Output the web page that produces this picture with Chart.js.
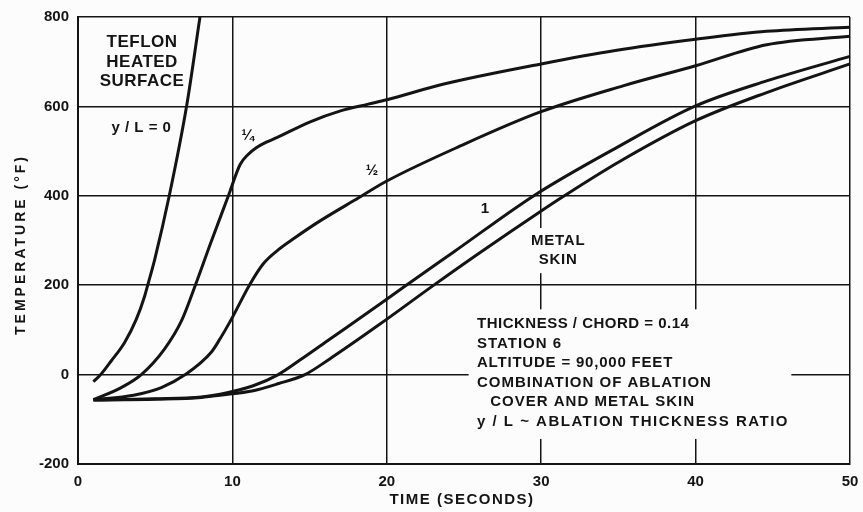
<!DOCTYPE html>
<html><head><meta charset="utf-8">
<script src="https://cdn.jsdelivr.net/npm/chart.js@4/dist/chart.umd.min.js"></script>
<style>html,body{margin:0;padding:0;background:#fcfcfc}#wrap{width:863px;height:512px}</style>
</head><body><div id="wrap"><canvas id="c" width="863" height="512"></canvas></div>
<script>
// ---- data ----
const xTickLabels = ['0','10','20','30','40','50'];
const yTickLabels = ['-200','0','200','400','600','800'];

// y/L = 0 (Teflon heated surface)
const surfX = [1, 1.47, 2.16, 3.02, 3.78, 4.32, 4.53, 4.97, 5.91, 7.04, 7.9];
const surfY = [-16, 0, 31, 72, 124, 176, 202, 258, 400, 602, 800];
// y/L = 1/4
const quarterX = [1, 2.8, 4.1, 5.6, 6.7, 7.6, 8.6, 9.74, 10.5, 11.0, 11.57, 12.2, 12.87, 15, 17, 18.8, 20, 23.7, 30, 34.8, 40, 44.6, 50];
const quarterY = [-56, -29, 0, 57, 120, 200, 295, 400, 470, 492, 508, 520, 530, 565, 590, 605, 615, 650, 695, 725, 750, 768, 777];
// y/L = 1/2
const halfX = [1, 3.6, 5.4, 6.95, 8.63, 9.2, 10, 11.1, 12, 13, 14, 15.5, 18.15, 20, 24.8, 29.9, 35.3, 40, 44.6, 50];
const halfY = [-56, -46, -29, 0, 50, 80, 128, 200, 248, 280, 305, 340, 395, 433, 512, 587, 646, 691, 738, 757];
// y/L = 1
const oneX = [1, 5, 8, 9.2, 11.35, 12.97, 14.4, 16.3, 19.56, 21.1, 24.4, 29.6, 35, 40, 44.6, 50];
const oneY = [-57, -54, -50, -44, -25, 0, 33, 79, 158, 196, 276, 402, 510, 601, 657, 712];
// metal skin
const skinX = [1, 5, 8, 9.2, 11.35, 13, 14.7, 16.3, 19.56, 23.0, 26, 30, 31.5, 35, 40, 44.6, 50];
const skinY = [-57, -55, -51, -46, -36, -20, 0, 35, 113, 199, 272, 366, 400, 475, 568, 631, 695];

function pts(xs, ys){ return xs.map((x,i)=>({x:x, y:ys[i]})); }

// ---- annotations (data coordinates) ----
const notes = [
  {t:'TEFLON', x:4.15, y:744, a:'center', s:17, ls:0.5},
  {t:'HEATED', x:4.15, y:699, a:'center', s:17, ls:0.5},
  {t:'SURFACE', x:4.15, y:656, a:'center', s:17, ls:0.5},
  {t:'y / L = 0', x:4.11, y:551, a:'center', s:15, ls:0.5},
  {t:'¼', x:11.0, y:534, a:'center', s:15, ls:0},
  {t:'½', x:19.04, y:455, a:'center', s:15, ls:0},
  {t:'1', x:26.36, y:370, a:'center', s:15, ls:0},
  {t:'METAL', x:31.1, y:299, a:'center', s:15, ls:0.8},
  {t:'SKIN', x:31.1, y:256, a:'center', s:15, ls:0.8},
  {t:'THICKNESS / CHORD = 0.14', x:25.84, y:113, a:'left', s:15, ls:0.5},
  {t:'STATION 6', x:25.84, y:69.4, a:'left', s:15, ls:1},
  {t:'ALTITUDE = 90,000 FEET', x:25.84, y:25.7, a:'left', s:15, ls:0.8},
  {t:'COMBINATION OF ABLATION', x:25.84, y:-17.9, a:'left', s:15, ls:1},
  {t:'COVER AND METAL SKIN', x:26.7, y:-61.5, a:'left', s:15, ls:1},
  {t:'y / L ~ ABLATION THICKNESS RATIO', x:25.84, y:-105, a:'left', s:15, ls:1.5}
];
const blankBoxes = [
  {x0:25.3, x1:46.2, y0:-144, y1:146},
  {x0:29.4, x1:32.8, y0:227, y1:328}
];

const FONT = '"Liberation Sans", Arial, sans-serif';
const INK = '#141414';

const decor = {
  id:'decor',
  beforeDraw(chart){
    const ctx = chart.ctx;
    ctx.save(); ctx.fillStyle = '#fcfcfc'; ctx.fillRect(0,0,chart.width,chart.height); ctx.restore();
  },
  beforeDatasetsDraw(chart){
    const ctx = chart.ctx, xs = chart.scales.x, ys = chart.scales.y;
    ctx.save(); ctx.fillStyle = '#fcfcfc';
    blankBoxes.forEach(b=>{
      const l = xs.getPixelForValue(b.x0), r = xs.getPixelForValue(b.x1);
      const t = ys.getPixelForValue(b.y1), bt = ys.getPixelForValue(b.y0);
      ctx.fillRect(l, t, r-l, bt-t);
    });
    ctx.restore();
  },
  afterDraw(chart){
    const ctx = chart.ctx, xs = chart.scales.x, ys = chart.scales.y, ca = chart.chartArea;
    ctx.save();
    ctx.fillStyle = INK;
    ctx.textBaseline = 'middle';
    notes.forEach(n=>{
      ctx.font = 'bold ' + n.s + 'px ' + FONT;
      ctx.letterSpacing = n.ls + 'px';
      ctx.textAlign = n.a;
      ctx.fillText(n.t, xs.getPixelForValue(n.x), ys.getPixelForValue(n.y));
    });
    // axis titles
    ctx.font = 'bold 14px ' + FONT;
    ctx.letterSpacing = '3px';
    ctx.textAlign = 'center';
    ctx.save();
    ctx.translate(ca.left - 57, (ca.top + ca.bottom)/2 + 4);
    ctx.rotate(-Math.PI/2);
    ctx.fillText('TEMPERATURE (°F)', 0, 0);
    ctx.restore();
    ctx.font = 'bold 15px ' + FONT;
    ctx.letterSpacing = '1.5px';
    ctx.fillText('TIME (SECONDS)', (ca.left + ca.right)/2 - 2, ca.bottom + 36);
    ctx.restore();
  }
};

function ds(xs, ys){
  return {data: pts(xs, ys), borderColor: INK, borderWidth: 3, pointRadius: 0,
          fill: false, cubicInterpolationMode: 'monotone', clip: 2};
}

new Chart(document.getElementById('c'), {
  type: 'line',
  data: { datasets: [ds(surfX, surfY), ds(quarterX, quarterY), ds(halfX, halfY), ds(oneX, oneY), ds(skinX, skinY)] },
  options: {
    responsive: false, animation: false, devicePixelRatio: 1,
    layout: { padding: { top: 17, right: 13, left: 0, bottom: 0 } },
    plugins: { legend: {display:false}, tooltip: {enabled:false} },
    scales: {
      x: {
        type: 'linear', min: 0, max: 50,
        afterFit(s){ s.height = 48; s.paddingLeft = 0; s.paddingRight = 0; },
        grid: { color: INK, lineWidth: 1.5, drawTicks: false },
        border: { color: INK, width: 2 },
        ticks: { stepSize: 10, padding: 9, color: INK, maxRotation: 0,
                 font: { family: FONT, size: 15, weight: 'bold' },
                 callback: (v, i) => xTickLabels[i] }
      },
      y: {
        type: 'linear', min: -200, max: 800,
        afterFit(s){ s.width = 78; s.paddingTop = 0; s.paddingBottom = 0; },
        grid: { color: INK, lineWidth: 1.5, drawTicks: false },
        border: { color: INK, width: 2 },
        ticks: { stepSize: 200, padding: 9, color: INK,
                 font: { family: FONT, size: 15, weight: 'bold' },
                 callback: (v, i) => yTickLabels[i] }
      }
    }
  },
  plugins: [decor]
});
</script></body></html>
